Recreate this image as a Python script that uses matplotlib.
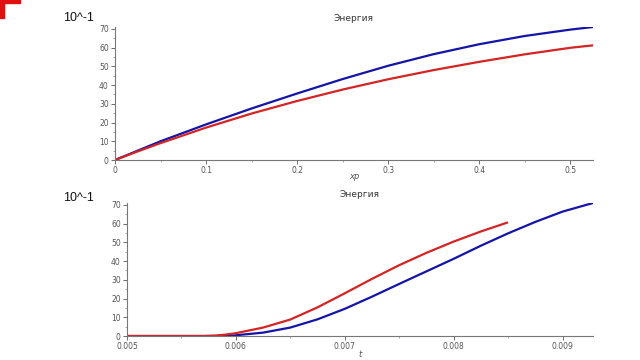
import matplotlib
matplotlib.use("Agg")
import matplotlib.pyplot as plt
from matplotlib.patches import Rectangle
from matplotlib.ticker import MultipleLocator

# top panel: energy vs xp
xp = [0, 0.025, 0.05, 0.1, 0.15, 0.2, 0.25, 0.3, 0.35, 0.4, 0.45, 0.5, 0.525]
e_blue_xp = [0, 5, 10, 19, 27.5, 35.5, 43.2, 50.3, 56.5, 61.8, 66.2, 69.6, 71]
e_red_xp = [0, 4.6, 9, 17.3, 24.8, 31.5, 37.6, 43.1, 48, 52.4, 56.4, 59.9, 61.2]

# bottom panel: energy vs t
t_red = [0.005, 0.0057, 0.0058, 0.0059, 0.006, 0.00625, 0.0065, 0.00675, 0.007,
         0.00725, 0.0075, 0.00775, 0.008, 0.00825, 0.00849]
e_red_t = [0, 0, 0.2, 0.7, 1.5, 4.5, 8.8, 15.3, 22.8, 30.5, 37.8, 44.4, 50.4, 55.8, 60.5]
t_blue = [0.005, 0.0059, 0.006, 0.00625, 0.0065, 0.00675, 0.007, 0.00725,
          0.0075, 0.00775, 0.008, 0.00825, 0.0085, 0.00875, 0.009, 0.00928]
e_blue_t = [0, 0, 0.4, 1.8, 4.5, 8.9, 14.5, 21, 27.8, 34.5, 41.2, 48.2, 54.8, 60.9, 66.4, 71]

blue = "#1414a8"
red = "#d42424"
grey = "#555555"

fig = plt.figure(figsize=(6.4, 3.6), dpi=100)


def style(ax):
    for s in ["top", "right"]:
        ax.spines[s].set_visible(False)
    for s in ["left", "bottom"]:
        ax.spines[s].set_color("#777777")
        ax.spines[s].set_linewidth(0.8)
    ax.tick_params(labelsize=5.5, colors=grey, length=3, width=0.6, pad=1.5)
    ax.tick_params(which="minor", length=1.5, width=0.5, colors="#888888")
    ax.yaxis.set_major_locator(MultipleLocator(10))
    ax.yaxis.set_minor_locator(MultipleLocator(5))
    ax.set_ylim(0, 71)
    ax.set_title("Энергия", fontsize=6.5, color="#333333", pad=4)


ax1 = fig.add_axes([115 / 640, 1 - 160 / 360, 478 / 640, 133 / 360])
ax1.plot(xp, e_blue_xp, color=blue, lw=1.6, solid_joinstyle="round")
ax1.plot(xp, e_red_xp, color=red, lw=1.6, solid_joinstyle="round")
ax1.set_xlim(0, 0.525)
ax1.xaxis.set_major_locator(MultipleLocator(0.1))
ax1.xaxis.set_minor_locator(MultipleLocator(0.05))
style(ax1)
ax1.xaxis.set_major_formatter(plt.FuncFormatter(lambda v, p: "0" if abs(v) < 1e-9 else f"{v:.1f}"))
ax1.set_xlabel("xp", fontsize=6, style="italic", color=grey, labelpad=-2)

ax2 = fig.add_axes([127 / 640, 1 - 336 / 360, 466 / 640, 133 / 360])
ax2.plot(t_blue, e_blue_t, color=blue, lw=1.6, solid_joinstyle="round")
ax2.plot(t_red, e_red_t, color=red, lw=1.6, solid_joinstyle="round")
ax2.set_xlim(0.005, 0.00928)
ax2.xaxis.set_major_locator(MultipleLocator(0.001))
ax2.xaxis.set_minor_locator(MultipleLocator(0.0005))
style(ax2)
ax2.xaxis.set_major_formatter(plt.FuncFormatter(lambda v, p: f"{v:.3f}"))
ax2.set_xlabel("t", fontsize=6, style="italic", color=grey, labelpad=-1)

# scale notes
fig.text(63 / 640, 1 - 18 / 360, "10^-1", fontsize=9, family="Liberation Sans",
         va="center", color="#111111")
fig.text(63 / 640, 1 - 198 / 360, "10^-1", fontsize=9, family="Liberation Sans",
         va="center", color="#111111")

# red corner mark
fig.patches.append(Rectangle((0, 1 - 3 / 360), 20 / 640, 3 / 360,
                             transform=fig.transFigure, color="#e01010"))
fig.patches.append(Rectangle((0, 1 - 18 / 360), 4 / 640, 18 / 360,
                             transform=fig.transFigure, color="#e01010"))

fig.savefig("out.png", dpi=100)
